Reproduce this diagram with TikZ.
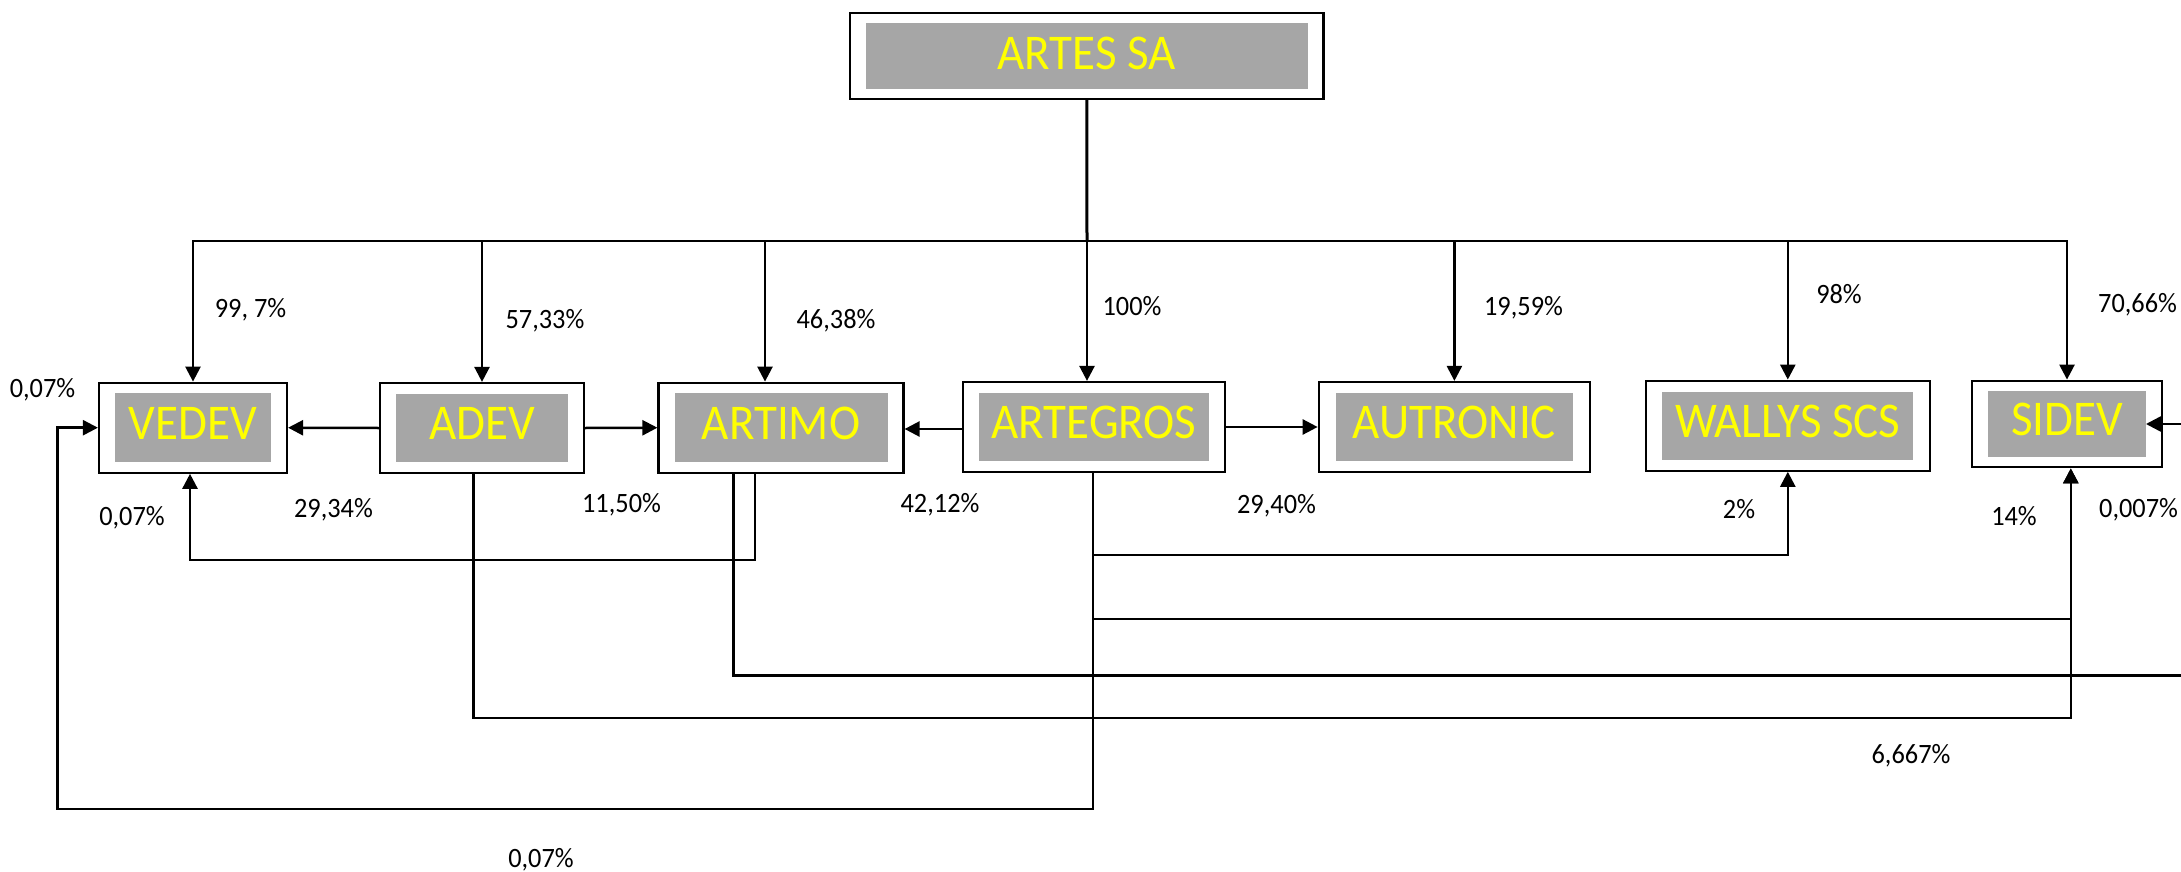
\documentclass[tikz,border=0pt]{standalone}
\usepackage{fontspec}
\setmainfont{Carlito}[FakeStretch=0.94]
\usetikzlibrary{arrows.meta}
\definecolor{boxgray}{HTML}{A6A6A6}
\definecolor{boxyellow}{HTML}{FFFF00}
\begin{document}
\begin{tikzpicture}[x=1pt,y=-1pt,
  outerbox/.style={draw=black, line width=2.2pt, fill=white, inner sep=0pt, minimum height=90pt},
  innerbox/.style={fill=boxgray, text=boxyellow, inner sep=0pt, minimum height=68.7pt,
     text height=32pt, text depth=9pt, font=\fontsize{50}{54}\selectfont},
  pct/.style={anchor=base, inner sep=0pt, font=\fontsize{28}{32}\selectfont},
  link/.style={line width=2.5pt},
  arr/.style={link, -{Triangle[length=15pt,width=15pt]}},
]
\useasboundingbox (0,0) rectangle (2181,872);
\clip (0,0) rectangle (2181,872);

% boxes
\node[outerbox, minimum width=473.5pt, minimum height=86pt] (artes) at (1086.75,55.7) {};
\node[innerbox, minimum width=442pt, minimum height=65.7pt, text depth=4.4pt] (artesi) at (artes) {ARTES SA};

\node[outerbox, minimum width=188pt] (vedev) at (193,427.7) {};
\node[innerbox, minimum width=156pt] (vedevi) at (vedev) {VEDEV};

\node[outerbox, minimum width=204pt] (adev) at (482,428) {};
\node[innerbox, minimum width=172pt] (adevi) at (adev) {ADEV};

\node[outerbox, minimum width=245pt] (artimo) at (781,427.7) {};
\node[innerbox, minimum width=213pt] (artimoi) at (artimo) {ARTIMO};

\node[outerbox, minimum width=262pt] (artegros) at (1094,427) {};
\node[innerbox, minimum width=229.6pt] (artegrosi) at (artegros) {ARTEGROS};

\node[outerbox, minimum width=271.3pt] (autronic) at (1454.4,427) {};
\node[innerbox, minimum width=237.7pt] (autronici) at (autronic) {AUTRONIC};

\node[outerbox, minimum width=284pt] (wallys) at (1787.8,425.7) {};
\node[innerbox, minimum width=250.7pt, minimum height=68pt] (wallysi) at (wallys) {WALLYS SCS};

\node[outerbox, minimum width=190.3pt, minimum height=86.6pt] (sidev) at (2067,424) {};
\node[innerbox, minimum width=157.5pt, minimum height=65.7pt] (sidevi) at (sidev) {SIDEV};

% top distribution
\coordinate (bus) at (1087,241);
\draw[link, line width=3pt] (artes.south) -- (bus);
\draw[arr] (bus) -| (vedev.north);
\draw[arr] (bus) -| (adev.north);
\draw[arr] (bus) -| ([xshift=-16pt]artimo.north);
\draw[arr] (bus) -- (bus |- artegros.north);
\draw[arr] (bus) -| (autronic.north);
\draw[arr] (bus) -| (wallys.north);
\draw[arr] (bus) -| (sidev.north);

% horizontal links
\draw[arr] (adev.west) -- (vedev.east);
\draw[arr] (adev.east) -- (artimo.west);
\draw[arr] ([yshift=-2pt]artegros.west) -- ([yshift=-2pt]artegros.west -| artimo.east);
\draw[arr] (artegros.east) -- (autronic.west);

% lower links
\draw[arr] ([xshift=-26pt]artimo.south) -- ++(0,86) -| ([xshift=-3pt]vedev.south);
\coordinate (offR) at (2230,675.7);
\draw[arr] ([xshift=-47.5pt]artimo.south) |- (offR) |- (sidevi.east);
\draw[arr] ([xshift=-8.5pt]adev.south) -- ++(0,243.7) -| ([xshift=3.8pt]sidev.south);
\draw[arr] ([xshift=-1pt]artegros.south) -- ++(0,82) -| (wallys.south);
\draw[arr] ([xshift=-1pt]artegros.south) -- ++(0,146) -| ([xshift=3.8pt]sidev.south);
\coordinate (loopL) at (57.5,809);
\draw[arr] ([xshift=-1pt]artegros.south) |- (loopL) |- (vedev.west);

% percentages
\node[pct] (p1) at (250.5,317) {99, 7\%};
\node[pct] (p2) at (545,328) {57,33\%};
\node[pct] (p3) at (836,328) {46,38\%};
\node[pct] (p4) at (1132,315) {100\%};
\node[pct] (p5) at (1523.5,315) {19,59\%};
\node[pct] (p6) at (1839,303) {98\%};
\node[pct] (p7) at (2137.5,312) {70,66\%};
\node[pct] (p8) at (42.5,397) {0,07\%};
\node[pct] (p9) at (132,525) {0,07\%};
\node[pct] (p10) at (333.5,517) {29,34\%};
\node[pct] (p11) at (621.5,512) {11,50\%};
\node[pct] (p12) at (940,512) {42,12\%};
\node[pct] (p13) at (1276.5,513) {29,40\%};
\node[pct] (p14) at (1739,518) {2\%};
\node[pct] (p15) at (2014,525) {14\%};
\node[pct] (p16) at (2138.5,517) {0,007\%};
\node[pct] (p17) at (1911,763) {6,667\%};
\node[pct] (p18) at (541,867) {0,07\%};
\end{tikzpicture}
\end{document}
